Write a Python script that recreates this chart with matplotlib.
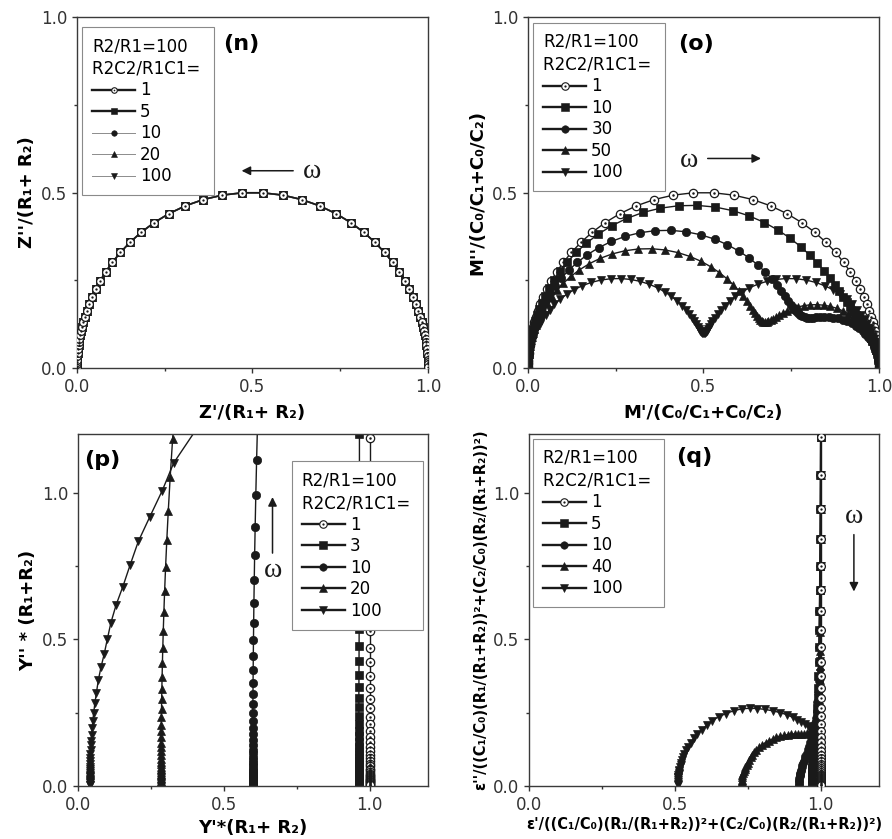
import matplotlib
matplotlib.use("Agg")
import matplotlib.pyplot as plt
from matplotlib.lines import Line2D
from matplotlib.legend_handler import HandlerTuple
from matplotlib.ticker import MultipleLocator, FormatStrFormatter

plt.rcParams["font.family"] = ["DejaVu Sans"]
plt.rcParams["axes.linewidth"] = 1.0

INK = "#1a1a1a"

# ---- single Debye arc: Z plane (n, all five ratios) and M plane (o, ratio 1)
arc_re = [0.0, 0.0001, 0.0003, 0.0006, 0.0011, 0.0018, 0.0028, 0.0044, 0.0056, 0.0070,
          0.0088, 0.0111, 0.0139, 0.0175, 0.0219, 0.0274, 0.0343, 0.0428, 0.0533, 0.0661,
          0.0818, 0.1009, 0.1238, 0.1510, 0.1829, 0.2199, 0.2619, 0.3087, 0.3600, 0.4144,
          0.4713, 0.5287, 0.5856, 0.6400, 0.6913, 0.7381, 0.7801, 0.8171, 0.8490, 0.8762,
          0.8991, 0.9182, 0.9339, 0.9467, 0.9572, 0.9657, 0.9726, 0.9781, 0.9825, 0.9861,
          0.9889, 0.9912, 0.9930, 0.9944, 0.9956, 0.9972, 0.9982, 0.9989, 0.9994, 0.9997,
          0.9999, 1.0]
arc_im = [0.0040, 0.0106, 0.0168, 0.0237, 0.0335, 0.0421, 0.0529, 0.0665, 0.0746, 0.0836,
          0.0936, 0.1047, 0.1172, 0.1311, 0.1464, 0.1632, 0.1820, 0.2024, 0.2246, 0.2485,
          0.2741, 0.3012, 0.3293, 0.3580, 0.3866, 0.4142, 0.4397, 0.4620, 0.4800, 0.4926,
          0.4992, 0.4992, 0.4926, 0.4800, 0.4620, 0.4397, 0.4142, 0.3866, 0.3580, 0.3293,
          0.3012, 0.2741, 0.2485, 0.2246, 0.2024, 0.1820, 0.1632, 0.1464, 0.1311, 0.1172,
          0.1047, 0.0936, 0.0836, 0.0746, 0.0665, 0.0529, 0.0421, 0.0335, 0.0237, 0.0168,
          0.0106, 0.0040]

# ---- (o) electric modulus, R2C2/R1C1 = 10, 30, 50, 100
o10_re = [0.0, 0.0001, 0.0002, 0.0004, 0.0008, 0.0016, 0.0025, 0.0040, 0.0064, 0.0101,
          0.0126, 0.0159, 0.0199, 0.0249, 0.0312, 0.0389, 0.0485, 0.0601, 0.0745, 0.0918,
          0.1126, 0.1375, 0.1665, 0.2002, 0.2384, 0.2810, 0.3278, 0.3773, 0.4293, 0.4816,
          0.5337, 0.5834, 0.6305, 0.6735, 0.7123, 0.7467, 0.7766, 0.8026, 0.8248, 0.8439,
          0.8603, 0.8743, 0.8868, 0.8979, 0.9080, 0.9173, 0.9259, 0.9342, 0.9418, 0.9492,
          0.9559, 0.9622, 0.9679, 0.9730, 0.9774, 0.9814, 0.9846, 0.9874, 0.9898, 0.9918,
          0.9947, 0.9966, 0.9978, 0.9989, 0.9996, 0.9998]
o10_im = [0.0031, 0.0068, 0.0122, 0.0194, 0.0274, 0.0387, 0.0486, 0.0611, 0.0768, 0.0962,
          0.1076, 0.1204, 0.1345, 0.1499, 0.1672, 0.1859, 0.2064, 0.2283, 0.2519, 0.2768,
          0.3028, 0.3293, 0.3558, 0.3813, 0.4051, 0.4260, 0.4432, 0.4554, 0.4623, 0.4633,
          0.4585, 0.4483, 0.4333, 0.4145, 0.3930, 0.3699, 0.3459, 0.3220, 0.2987, 0.2766,
          0.2558, 0.2367, 0.2191, 0.2032, 0.1884, 0.1751, 0.1628, 0.1513, 0.1406, 0.1305,
          0.1208, 0.1114, 0.1025, 0.0939, 0.0858, 0.0780, 0.0708, 0.0640, 0.0579, 0.0520,
          0.0419, 0.0336, 0.0269, 0.0191, 0.0108, 0.0060]

o30_re = [0.0, 0.0001, 0.0004, 0.0011, 0.0022, 0.0034, 0.0054, 0.0085, 0.0107, 0.0135,
          0.0168, 0.0211, 0.0264, 0.0329, 0.0410, 0.0508, 0.0629, 0.0776, 0.0952, 0.1161,
          0.1407, 0.1691, 0.2015, 0.2375, 0.2769, 0.3188, 0.3627, 0.4070, 0.4508, 0.4928,
          0.5323, 0.5684, 0.6010, 0.6297, 0.6546, 0.6758, 0.6939, 0.7092, 0.7220, 0.7327,
          0.7420, 0.7499, 0.7569, 0.7634, 0.7694, 0.7755, 0.7817, 0.7882, 0.7954, 0.8033,
          0.8121, 0.8220, 0.8327, 0.8446, 0.8571, 0.8703, 0.8838, 0.8971, 0.9102, 0.9225,
          0.9340, 0.9442, 0.9535, 0.9614, 0.9683, 0.9741, 0.9789, 0.9862, 0.9912, 0.9943,
          0.9964, 0.9982, 0.9993, 0.9998]
o30_im = [0.0026, 0.0103, 0.0184, 0.0291, 0.0411, 0.0517, 0.0650, 0.0814, 0.0911, 0.1019,
          0.1138, 0.1268, 0.1415, 0.1573, 0.1746, 0.1932, 0.2131, 0.2343, 0.2562, 0.2787,
          0.3011, 0.3227, 0.3428, 0.3606, 0.3750, 0.3854, 0.3913, 0.3922, 0.3881, 0.3795,
          0.3669, 0.3511, 0.3331, 0.3137, 0.2936, 0.2737, 0.2545, 0.2364, 0.2197, 0.2048,
          0.1914, 0.1798, 0.1698, 0.1618, 0.1553, 0.1505, 0.1469, 0.1447, 0.1436, 0.1434,
          0.1436, 0.1442, 0.1449, 0.1452, 0.1448, 0.1434, 0.1412, 0.1375, 0.1329, 0.1271,
          0.1204, 0.1131, 0.1053, 0.0975, 0.0895, 0.0819, 0.0746, 0.0610, 0.0494, 0.0398,
          0.0318, 0.0226, 0.0143, 0.0083]

o50_re = [0.0, 0.0001, 0.0005, 0.0012, 0.0023, 0.0037, 0.0059, 0.0093, 0.0117, 0.0146,
          0.0183, 0.0229, 0.0285, 0.0355, 0.0441, 0.0545, 0.0673, 0.0825, 0.1007, 0.1219,
          0.1466, 0.1746, 0.2058, 0.2400, 0.2763, 0.3143, 0.3527, 0.3906, 0.4269, 0.4612,
          0.4925, 0.5206, 0.5453, 0.5667, 0.5850, 0.6006, 0.6136, 0.6245, 0.6334, 0.6410,
          0.6475, 0.6530, 0.6579, 0.6623, 0.6665, 0.6707, 0.6751, 0.6798, 0.6849, 0.6910,
          0.6979, 0.7061, 0.7155, 0.7265, 0.7390, 0.7532, 0.7690, 0.7862, 0.8044, 0.8235,
          0.8426, 0.8617, 0.8798, 0.8969, 0.9126, 0.9266, 0.9390, 0.9496, 0.9587, 0.9664,
          0.9728, 0.9780, 0.9823, 0.9858, 0.9886, 0.9927, 0.9954, 0.9971, 0.9986, 0.9994,
          0.9998]
o50_im = [0.0022, 0.0089, 0.0178, 0.0284, 0.0399, 0.0502, 0.0630, 0.0789, 0.0883, 0.0986,
          0.1099, 0.1226, 0.1363, 0.1513, 0.1675, 0.1847, 0.2030, 0.2220, 0.2415, 0.2608,
          0.2796, 0.2971, 0.3124, 0.3250, 0.3340, 0.3391, 0.3398, 0.3363, 0.3289, 0.3179,
          0.3043, 0.2886, 0.2717, 0.2544, 0.2371, 0.2206, 0.2049, 0.1906, 0.1776, 0.1661,
          0.1562, 0.1479, 0.1413, 0.1362, 0.1325, 0.1305, 0.1299, 0.1306, 0.1325, 0.1357,
          0.1399, 0.1451, 0.1508, 0.1570, 0.1631, 0.1689, 0.1739, 0.1777, 0.1800, 0.1805,
          0.1789, 0.1754, 0.1700, 0.1629, 0.1545, 0.1452, 0.1352, 0.1249, 0.1148, 0.1049,
          0.0954, 0.0863, 0.0781, 0.0703, 0.0632, 0.0508, 0.0407, 0.0325, 0.0231, 0.0146,
          0.0075]

o100_re = [0.0, 0.0001, 0.0004, 0.0009, 0.0018, 0.0028, 0.0044, 0.0070, 0.0088, 0.0110,
           0.0137, 0.0172, 0.0214, 0.0267, 0.0331, 0.0409, 0.0505, 0.0619, 0.0755, 0.0915,
           0.1100, 0.1310, 0.1544, 0.1800, 0.2072, 0.2357, 0.2644, 0.2928, 0.3201, 0.3458,
           0.3693, 0.3903, 0.4088, 0.4248, 0.4385, 0.4501, 0.4597, 0.4677, 0.4743, 0.4797,
           0.4843, 0.4881, 0.4913, 0.4941, 0.4966, 0.4989,
           0.5011, 0.5034, 0.5059, 0.5087, 0.5119, 0.5157,
           0.5203, 0.5257, 0.5323, 0.5403, 0.5499, 0.5615, 0.5752, 0.5912, 0.6097, 0.6307,
           0.6542, 0.6799, 0.7072, 0.7356, 0.7643, 0.7928, 0.8200, 0.8456, 0.8690, 0.8900,
           0.9085, 0.9245, 0.9381, 0.9495, 0.9591, 0.9669, 0.9733, 0.9786, 0.9828, 0.9863,
           0.9890, 0.9912, 0.9930, 0.9956, 0.9972, 0.9982, 0.9991, 0.9996, 0.9999, 1.0]
o100_im = [0.0017, 0.0067, 0.0133, 0.0211, 0.0299, 0.0376, 0.0472, 0.0591, 0.0662, 0.0739,
           0.0824, 0.0919, 0.1022, 0.1135, 0.1256, 0.1386, 0.1523, 0.1666, 0.1811, 0.1957,
           0.2097, 0.2229, 0.2343, 0.2437, 0.2505, 0.2543, 0.2549, 0.2523, 0.2467, 0.2385,
           0.2283, 0.2165, 0.2039, 0.1909, 0.1780, 0.1655, 0.1539, 0.1431, 0.1334, 0.1248,
           0.1175, 0.1113, 0.1065, 0.1029, 0.1004, 0.0992,
           0.0992, 0.1004, 0.1029, 0.1065, 0.1113, 0.1175,
           0.1248, 0.1334, 0.1431, 0.1539, 0.1655, 0.1780, 0.1909, 0.2039, 0.2165, 0.2283,
           0.2385, 0.2467, 0.2523, 0.2549, 0.2543, 0.2505, 0.2437, 0.2343, 0.2229, 0.2097,
           0.1957, 0.1811, 0.1666, 0.1523, 0.1386, 0.1256, 0.1135, 0.1022, 0.0919, 0.0824,
           0.0739, 0.0662, 0.0591, 0.0472, 0.0376, 0.0299, 0.0211, 0.0133, 0.0067, 0.0017]

# ---- (p) admittance, R2C2/R1C1 = 1, 3, 10, 20, 100
p1_re = [1.0, 1.0, 1.0, 1.0, 1.0, 1.0, 1.0, 1.0, 1.0, 1.0,
         1.0, 1.0, 1.0, 1.0, 1.0, 1.0, 1.0, 1.0, 1.0, 1.0,
         1.0, 1.0, 1.0, 1.0, 1.0, 1.0, 1.0, 1.0, 1.0, 1.0,
         1.0, 1.0, 1.0, 1.0, 1.0, 1.0, 1.0, 1.0, 1.0, 1.0,
         1.0, 1.0, 1.0, 1.0, 1.0]
p1_im = [1.335, 1.188, 1.059, 0.944, 0.841, 0.749, 0.668, 0.595, 0.530, 0.472,
         0.421, 0.375, 0.334, 0.298, 0.265, 0.236, 0.211, 0.188, 0.167, 0.149,
         0.133, 0.118, 0.105, 0.094, 0.084, 0.075, 0.067, 0.059, 0.053, 0.047,
         0.042, 0.037, 0.033, 0.030, 0.026, 0.024, 0.021, 0.019, 0.017, 0.015,
         0.013, 0.011, 0.008, 0.005, 0.002]

p3_re = [0.966, 0.965, 0.965, 0.965, 0.9648, 0.9645, 0.9643, 0.9640, 0.9640, 0.9638,
         0.9636, 0.9634, 0.9632, 0.963, 0.963, 0.963, 0.963, 0.963, 0.963, 0.963,
         0.963, 0.963, 0.963, 0.963, 0.963, 0.963, 0.963, 0.963, 0.963, 0.963,
         0.963, 0.963, 0.963, 0.963, 0.963, 0.963, 0.963, 0.963, 0.963, 0.963,
         0.963]
p3_im = [1.350, 1.200, 1.069, 0.953, 0.849, 0.756, 0.674, 0.600, 0.535, 0.477,
         0.425, 0.378, 0.337, 0.300, 0.268, 0.238, 0.212, 0.189, 0.169, 0.150,
         0.134, 0.119, 0.106, 0.095, 0.084, 0.075, 0.067, 0.060, 0.053, 0.047,
         0.042, 0.038, 0.033, 0.029, 0.025, 0.021, 0.017, 0.013, 0.009, 0.005,
         0.002]

p10_re = [0.616, 0.6125, 0.6097, 0.6075, 0.6057, 0.6044, 0.6032, 0.6024, 0.6017, 0.6011,
          0.6007, 0.6003, 0.6000, 0.5998, 0.5995, 0.5993, 0.5992, 0.599, 0.599, 0.599,
          0.599, 0.599, 0.599, 0.599, 0.599, 0.599, 0.599, 0.599, 0.599, 0.599,
          0.599, 0.599, 0.599, 0.599, 0.599, 0.599, 0.599, 0.599, 0.599, 0.599]
p10_im = [1.249, 1.113, 0.992, 0.884, 0.787, 0.702, 0.625, 0.557, 0.497, 0.442,
          0.394, 0.351, 0.313, 0.279, 0.249, 0.222, 0.197, 0.176, 0.157, 0.140,
          0.124, 0.111, 0.099, 0.088, 0.078, 0.070, 0.062, 0.055, 0.049, 0.044,
          0.039, 0.035, 0.031, 0.027, 0.022, 0.018, 0.014, 0.010, 0.006, 0.002]

p20_re = [0.335, 0.3245, 0.3162, 0.3097, 0.3045, 0.3004, 0.2971, 0.2945, 0.2924, 0.2908,
          0.2895, 0.2885, 0.2876, 0.2870, 0.2865, 0.2861, 0.2857, 0.2855, 0.2852, 0.285,
          0.285, 0.285, 0.285, 0.285, 0.285, 0.285, 0.285, 0.285, 0.285, 0.285,
          0.285, 0.285, 0.285, 0.285, 0.285, 0.285, 0.285, 0.285, 0.285, 0.285]
p20_im = [1.328, 1.183, 1.054, 0.939, 0.837, 0.746, 0.664, 0.592, 0.527, 0.470,
          0.419, 0.373, 0.332, 0.296, 0.264, 0.235, 0.209, 0.186, 0.166, 0.148,
          0.132, 0.118, 0.105, 0.093, 0.083, 0.074, 0.066, 0.059, 0.053, 0.047,
          0.042, 0.037, 0.033, 0.028, 0.023, 0.018, 0.014, 0.010, 0.006, 0.002]

p100_re = [0.405, 0.328, 0.289, 0.246, 0.207, 0.179, 0.154, 0.131, 0.113, 0.1005,
           0.090, 0.079, 0.070, 0.063, 0.058, 0.054, 0.051, 0.049, 0.047, 0.0455,
           0.0444, 0.0434, 0.0427, 0.0421, 0.0417, 0.0413, 0.0410, 0.0405, 0.040, 0.040,
           0.040, 0.040, 0.040, 0.040, 0.040, 0.040, 0.040, 0.040, 0.040, 0.040]
p100_im = [1.215, 1.101, 1.007, 0.917, 0.834, 0.754, 0.680, 0.618, 0.557, 0.500,
           0.450, 0.405, 0.362, 0.316, 0.282, 0.250, 0.222, 0.197, 0.175, 0.155,
           0.138, 0.122, 0.108, 0.096, 0.085, 0.075, 0.066, 0.058, 0.051, 0.045,
           0.039, 0.034, 0.029, 0.025, 0.021, 0.017, 0.013, 0.009, 0.005, 0.002]

# ---- (q) permittivity, R2C2/R1C1 = 1, 5, 10, 40, 100
q1_re = [1.0, 1.0, 1.0, 1.0, 1.0, 1.0, 1.0, 1.0, 1.0, 1.0,
         1.0, 1.0, 1.0, 1.0, 1.0, 1.0, 1.0, 1.0, 1.0, 1.0,
         1.0, 1.0, 1.0, 1.0, 1.0, 1.0, 1.0, 1.0, 1.0, 1.0,
         1.0, 1.0, 1.0, 1.0, 1.0, 1.0, 1.0, 1.0, 1.0, 1.0,
         1.0, 1.0, 1.0]
q1_im = [1.335, 1.189, 1.059, 0.944, 0.841, 0.750, 0.668, 0.596, 0.531, 0.473,
         0.422, 0.376, 0.335, 0.299, 0.266, 0.237, 0.211, 0.188, 0.168, 0.150,
         0.133, 0.119, 0.106, 0.094, 0.084, 0.075, 0.067, 0.060, 0.053, 0.047,
         0.042, 0.038, 0.034, 0.030, 0.027, 0.024, 0.021, 0.017, 0.013, 0.010,
         0.007, 0.004, 0.002]

q5_re = [1.0, 1.0, 0.9995, 0.999, 0.998, 0.997, 0.9965, 0.996, 0.995, 0.994,
         0.9935, 0.992, 0.991, 0.990, 0.988, 0.986, 0.984, 0.982, 0.980, 0.978,
         0.977, 0.976, 0.975, 0.974, 0.973, 0.972, 0.9715, 0.971, 0.9705, 0.970,
         0.970, 0.970, 0.970]
q5_im = [1.335, 1.189, 1.059, 0.944, 0.841, 0.750, 0.668, 0.596, 0.531, 0.473,
         0.422, 0.376, 0.335, 0.299, 0.266, 0.237, 0.213, 0.190, 0.168, 0.149,
         0.133, 0.119, 0.106, 0.094, 0.082, 0.072, 0.062, 0.054, 0.046, 0.035,
         0.025, 0.015, 0.006]

q10_re = [1.0, 1.0, 0.9995, 0.999, 0.9985, 0.998, 0.997, 0.996, 0.995, 0.994,
          0.9935, 0.9927, 0.990, 0.988, 0.986, 0.9834, 0.980, 0.976, 0.972, 0.968,
          0.964, 0.960, 0.956, 0.952, 0.948, 0.945, 0.942, 0.939, 0.937, 0.935,
          0.933, 0.931, 0.930, 0.929, 0.928, 0.928, 0.927, 0.927, 0.926, 0.926,
          0.926, 0.926]
q10_im = [1.335, 1.189, 1.059, 0.944, 0.841, 0.750, 0.668, 0.596, 0.531, 0.473,
          0.422, 0.358, 0.318, 0.285, 0.257, 0.2327, 0.214, 0.197, 0.181, 0.166,
          0.151, 0.1375, 0.125, 0.114, 0.103, 0.094, 0.086, 0.078, 0.070, 0.063,
          0.056, 0.050, 0.045, 0.040, 0.036, 0.0332, 0.028, 0.022, 0.017, 0.012,
          0.008, 0.004]

q40_re = [1.0, 1.0, 1.0, 0.9998, 0.9997, 0.9995, 0.9993, 0.999, 0.9989, 0.998,
          0.997, 0.9965, 0.9958, 0.995, 0.993, 0.991, 0.989, 0.986, 0.984, 0.981,
          0.977, 0.972, 0.966, 0.960, 0.952, 0.943, 0.933, 0.923, 0.912, 0.900,
          0.888, 0.876, 0.862, 0.848, 0.835, 0.822, 0.811, 0.800, 0.790, 0.780,
          0.771, 0.765, 0.760, 0.755, 0.750, 0.746, 0.742, 0.739, 0.736, 0.734,
          0.732, 0.731, 0.730, 0.729, 0.729, 0.728, 0.728]
q40_im = [1.335, 1.189, 1.059, 0.944, 0.841, 0.750, 0.668, 0.596, 0.524, 0.460,
          0.410, 0.362, 0.325, 0.289, 0.265, 0.245, 0.228, 0.215, 0.205, 0.196,
          0.190, 0.186, 0.183, 0.180, 0.179, 0.178, 0.178, 0.178, 0.178, 0.177,
          0.175, 0.173, 0.170, 0.166, 0.160, 0.154, 0.148, 0.141, 0.133, 0.124,
          0.115, 0.107, 0.099, 0.090, 0.080, 0.072, 0.064, 0.057, 0.050, 0.044,
          0.036, 0.030, 0.022, 0.016, 0.011, 0.006, 0.002]

q100_re = [1.0, 1.0, 1.0, 1.0, 0.9999, 0.9998, 0.9997, 0.9995, 0.9993, 0.999,
           0.9988, 0.9985, 0.998, 0.9975, 0.997, 0.996, 0.9952, 0.994, 0.992, 0.9905,
           0.988, 0.985, 0.9815, 0.977, 0.971, 0.965, 0.957, 0.946, 0.9335, 0.920,
           0.904, 0.884, 0.862, 0.837, 0.810, 0.783, 0.757, 0.730, 0.703, 0.676,
           0.650, 0.628, 0.610, 0.592, 0.577, 0.565, 0.555, 0.546, 0.539, 0.533,
           0.528, 0.525, 0.522, 0.520, 0.518, 0.516, 0.515, 0.514, 0.513, 0.512,
           0.5115, 0.511, 0.511, 0.5105, 0.510, 0.510, 0.510]
q100_im = [1.335, 1.189, 1.059, 0.944, 0.841, 0.750, 0.668, 0.596, 0.524, 0.470,
           0.425, 0.385, 0.350, 0.318, 0.290, 0.268, 0.250, 0.235, 0.222, 0.211,
           0.203, 0.197, 0.194, 0.193, 0.195, 0.198, 0.203, 0.210, 0.218, 0.226,
           0.234, 0.243, 0.250, 0.256, 0.261, 0.264, 0.265, 0.263, 0.257, 0.247,
           0.236, 0.222, 0.207, 0.192, 0.176, 0.162, 0.148, 0.134, 0.121, 0.109,
           0.098, 0.088, 0.079, 0.071, 0.063, 0.056, 0.051, 0.045, 0.040, 0.036,
           0.032, 0.029, 0.026, 0.019, 0.013, 0.007, 0.002]

n_labels = ["1", "5", "10", "20", "100"]
o_labels = ["1", "10", "30", "50", "100"]
p_labels = ["1", "3", "10", "20", "100"]
q_labels = ["1", "5", "10", "40", "100"]
kinds = ["dot", "s", "o", "^", "v"]


def frame(ax, top):
    ax.set_xlim(0, top)
    ax.set_ylim(0, top)
    for a in (ax.xaxis, ax.yaxis):
        a.set_major_locator(MultipleLocator(0.5))
        a.set_minor_locator(MultipleLocator(0.25))
        a.set_major_formatter(FormatStrFormatter("%.1f"))
    ax.tick_params(which="both", direction="out", top=False, right=False,
                   color="#333333", width=1.0)
    ax.tick_params(which="major", length=3.6, pad=3.5, labelsize=12,
                   labelcolor="#333333")
    ax.tick_params(which="minor", length=2.3)
    for s in ax.spines.values():
        s.set_color("#3a3a3a")


def draw(ax, xs, ys, kind, ms, lw, color=INK, z=2):
    if kind == "dot":
        ax.plot(xs, ys, color=color, lw=lw, marker="o", ms=ms, mfc="white",
                mec=INK, mew=0.9, zorder=z)
        ax.plot(xs, ys, ls="none", marker="o", ms=ms * 0.3, mfc=INK, mec=INK,
                mew=0, zorder=z + 0.1)
    else:
        ax.plot(xs, ys, color=color, lw=lw, marker=kind, ms=ms, mfc=INK,
                mec=INK, mew=0.5, zorder=z)


def key(kind, ms, lw, color=INK):
    if kind == "dot":
        ring = Line2D([], [], color=color, lw=lw, marker="o", ms=ms, mfc="white",
                      mec=INK, mew=0.8)
        dot = Line2D([], [], ls="none", marker="o", ms=ms * 0.3, mfc=INK, mec=INK, mew=0)
        return (ring, dot)
    return Line2D([], [], color=color, lw=lw, marker=kind, ms=ms, mfc=INK, mec=INK, mew=0.4)


def legend(ax, handles, labels, anchor):
    leg = ax.legend(handles, labels, title="R2/R1=100\nR2C2/R1C1=\u2009", alignment="left",
                    loc="upper left", bbox_to_anchor=anchor, borderaxespad=0,
                    fontsize=12, title_fontsize=12, handlelength=2.6,
                    handletextpad=0.3, labelspacing=0.21, borderpad=0.6,
                    numpoints=1, fancybox=False, framealpha=1, edgecolor="#8a8a8a",
                    handler_map={tuple: HandlerTuple(ndivide=1)})
    leg.get_frame().set_linewidth(0.8)
    leg.get_title().set_linespacing(1.35)
    leg.set_zorder(10)
    return leg


def omega(ax, tx, ty, tail, head):
    ax.annotate("", xy=head, xytext=tail,
                arrowprops=dict(arrowstyle="-|>", color=INK, lw=1.1, mutation_scale=13,
                                shrinkA=0, shrinkB=0))
    ax.text(tx, ty, "\u03c9", fontsize=20, family="Liberation Serif",
            ha="center", va="baseline", color=INK)


fig = plt.figure(figsize=(8.92, 8.39), dpi=100)
ax_n = fig.add_axes([0.0863, 0.5614, 0.3935, 0.4183])
ax_o = fig.add_axes([0.5919, 0.5614, 0.3935, 0.4183])
ax_p = fig.add_axes([0.0874, 0.0632, 0.3924, 0.4195])
ax_q = fig.add_axes([0.5930, 0.0632, 0.3924, 0.4195])

# (n) impedance plane: the five ratios fall on one arc
n_widths = [1.2, 1.2, 0.6, 0.6, 0.6]
n_colors = [INK, INK, "#8c8c8c", "#8c8c8c", "#8c8c8c"]
for i in [1, 2, 3, 4, 0]:
    draw(ax_n, arc_re, arc_im, kinds[i], 5.6, n_widths[i], n_colors[i],
         z=2 + i * 0.01 + (1 if i == 0 else 0))
frame(ax_n, 1.0)
n_keys = [key(kinds[i], 4.0, [1.7, 1.7, 0.7, 0.7, 0.7][i], n_colors[i]) for i in range(5)]
legend(ax_n, n_keys, n_labels, (0.014, 0.9715))
ax_n.text(0.468, 0.923, "(n)", fontsize=16, fontweight="bold", ha="center", va="center")
omega(ax_n, 0.669, 0.540, (0.616, 0.562), (0.469, 0.562))
ax_n.set_xlabel("Z'/(R\u2081+ R\u2082)", fontsize=13, fontweight="bold")
ax_n.set_ylabel("Z''/(R\u2081+ R\u2082)", fontsize=13, fontweight="bold")

# (o) modulus plane
o_series = [(arc_re, arc_im), (o10_re, o10_im), (o30_re, o30_im),
            (o50_re, o50_im), (o100_re, o100_im)]
for i, (xs, ys) in enumerate(o_series):
    draw(ax_o, xs, ys, kinds[i], 6.0, 1.0)
frame(ax_o, 1.0)
legend(ax_o, [key(k, 5.4, 1.7) for k in kinds], o_labels, (0.014, 0.983))
ax_o.text(0.478, 0.923, "(o)", fontsize=16, fontweight="bold", ha="center", va="center")
omega(ax_o, 0.46, 0.5735, (0.512, 0.597), (0.664, 0.597))
ax_o.set_xlabel("M'/(C\u2080/C\u2081+C\u2080/C\u2082)", fontsize=13, fontweight="bold")
ax_o.set_ylabel("M''/(C\u2080/C\u2081+C\u2080/C\u2082)", fontsize=13, fontweight="bold")

# (p) admittance plane
p_series = [(p1_re, p1_im), (p3_re, p3_im), (p10_re, p10_im),
            (p20_re, p20_im), (p100_re, p100_im)]
for i, (xs, ys) in enumerate(p_series):
    draw(ax_p, xs, ys, kinds[i], 6.0, 1.0)
frame(ax_p, 1.2)
legend(ax_p, [key(k, 5.4, 1.7) for k in kinds], p_labels, (0.611, 0.923))
ax_p.text(0.083, 1.113, "(p)", fontsize=16, fontweight="bold", ha="center", va="center")
omega(ax_p, 0.667, 0.714, (0.667, 0.794), (0.667, 0.985))
ax_p.set_xlabel("Y'*(R\u2081+ R\u2082)", fontsize=13, fontweight="bold")
ax_p.set_ylabel("Y'' * (R\u2081+R\u2082)", fontsize=13, fontweight="bold")

# (q) permittivity plane
q_series = [(q1_re, q1_im), (q5_re, q5_im), (q10_re, q10_im),
            (q40_re, q40_im), (q100_re, q100_im)]
for i, (xs, ys) in enumerate(q_series):
    draw(ax_q, xs, ys, kinds[i], 5.6, 1.0, z=2 + (1 if i == 0 else 0))
frame(ax_q, 1.2)
legend(ax_q, [key(k, 5.4, 1.7) for k in kinds], q_labels, (0.011, 0.986))
ax_q.text(0.568, 1.12, "(q)", fontsize=16, fontweight="bold", ha="center", va="center")
omega(ax_q, 1.114, 0.897, (1.114, 0.857), (1.114, 0.663))
norm = "((C\u2081/C\u2080)(R\u2081/(R\u2081+R\u2082))\u00b2+(C\u2082/C\u2080)(R\u2082/(R\u2081+R\u2082))\u00b2)"
ax_q.set_xlabel("\u03b5'/" + norm, fontsize=10.5, fontweight="bold")
ax_q.set_ylabel("\u03b5''/" + norm, fontsize=10.5, fontweight="bold")

for ax in (ax_n, ax_o):
    ax.xaxis.set_label_coords(0.5, -0.103)
    ax.yaxis.set_label_coords(-0.118, 0.5)
ax_p.xaxis.set_label_coords(0.5, -0.093)
ax_p.yaxis.set_label_coords(-0.117, 0.5)
ax_q.xaxis.set_label_coords(0.5, -0.088)
ax_q.yaxis.set_label_coords(-0.117, 0.5)

fig.savefig("out.png", dpi=100)
